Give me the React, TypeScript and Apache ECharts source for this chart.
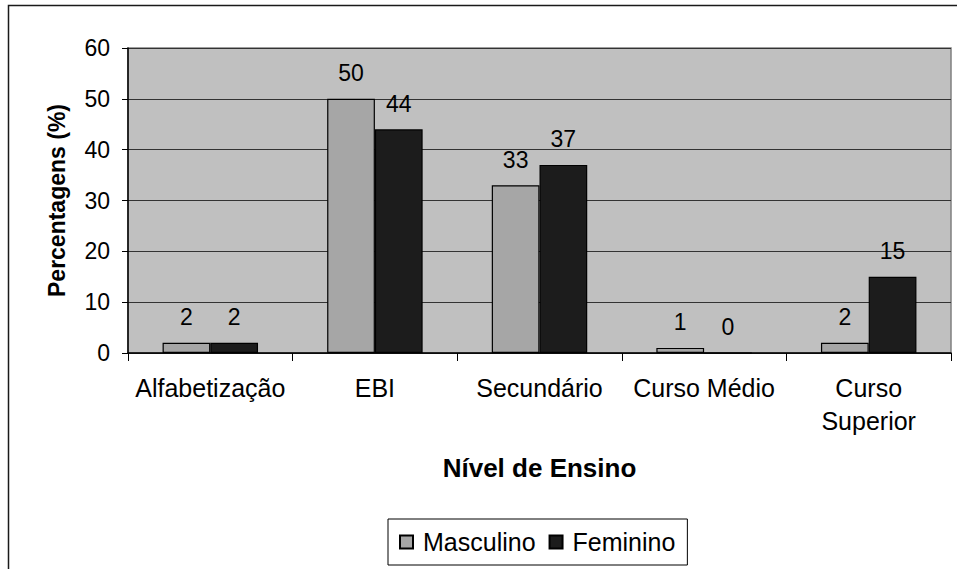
import React, { useEffect, useRef } from "react";
import * as echarts from "echarts";

const categories = ["Alfabetização", "EBI", "Secundário", "Curso Médio", "Curso\nSuperior"];
const masculino = [2, 50, 33, 1, 2];
const feminino = [2, 44, 37, 0, 15];
const yTicks = { min: 0, max: 60, interval: 10 };

const FONT = "'Liberation Sans', Arial, sans-serif";

export default function App() {
  const ref = useRef<HTMLDivElement>(null);
  useEffect(() => {
    if (!ref.current) return;
    const chart = echarts.init(ref.current, null, { renderer: "svg" });
    const label = {
      show: true,
      position: "top",
      distance: 14,
      fontSize: 23,
      color: "#000",
      fontFamily: FONT,
    };
    chart.setOption({
      animation: false,
      textStyle: { fontFamily: FONT },
      graphic: [
        {
          type: "rect",
          shape: { x: 8.5, y: 5.5, width: 960, height: 580 },
          style: { fill: "none", stroke: "#1a1a1a", lineWidth: 1.5 },
          z: -10,
        },
      ],
      grid: {
        left: 128,
        right: 6,
        top: 48,
        bottom: 216,
        show: true,
        backgroundColor: "#C0C0C0",
        borderColor: "#808080",
        borderWidth: 1.5,
      },
      legend: {
        left: 388,
        top: 519,
        itemWidth: 13,
        itemHeight: 13,
        itemGap: 13,
        padding: [9, 12, 9, 11],
        borderColor: "#000",
        borderWidth: 1,
        icon: "rect",
        textStyle: {
          fontSize: 25,
          lineHeight: 28,
          color: "#000",
          fontFamily: FONT,
          padding: [0, 0, 0, 5],
        },
        data: ["Masculino", "Feminino"],
      },
      xAxis: {
        type: "category",
        data: categories,
        name: "Nível de Ensino",
        nameLocation: "middle",
        nameGap: 102,
        nameTextStyle: { fontSize: 26, fontWeight: "bold", color: "#000", fontFamily: FONT },
        axisLine: { lineStyle: { color: "#000", width: 1.5 } },
        axisTick: { show: true, length: 8, lineStyle: { color: "#000" } },
        axisLabel: {
          fontSize: 25,
          color: "#000",
          margin: 18,
          lineHeight: 33,
          interval: 0,
          fontFamily: FONT,
        },
      },
      yAxis: {
        type: "value",
        min: yTicks.min,
        max: yTicks.max,
        interval: yTicks.interval,
        name: "Percentagens (%)",
        nameLocation: "middle",
        nameGap: 60,
        nameTextStyle: { fontSize: 23, fontWeight: "bold", color: "#000", fontFamily: FONT },
        axisLine: { show: true, lineStyle: { color: "#000", width: 1.5 } },
        axisTick: { show: true, length: 6, lineStyle: { color: "#000" } },
        axisLabel: { fontSize: 23, color: "#000", margin: 18, fontFamily: FONT },
        splitLine: { show: true, lineStyle: { color: "#333", width: 1.2 } },
      },
      series: [
        {
          name: "Masculino",
          type: "bar",
          data: masculino,
          barGap: "0%",
          barCategoryGap: "42%",
          itemStyle: { color: "#A6A6A6", borderColor: "#000", borderWidth: 1.2 },
          label,
        },
        {
          name: "Feminino",
          type: "bar",
          data: feminino,
          barGap: "0%",
          barCategoryGap: "42%",
          itemStyle: { color: "#1C1C1C", borderColor: "#000", borderWidth: 1.2 },
          label,
        },
      ],
    });
    return () => chart.dispose();
  }, []);
  return (
    <div
      ref={ref}
      style={{ position: "absolute", left: 0, top: 0, width: 957, height: 569, background: "#fff" }}
    />
  );
}
